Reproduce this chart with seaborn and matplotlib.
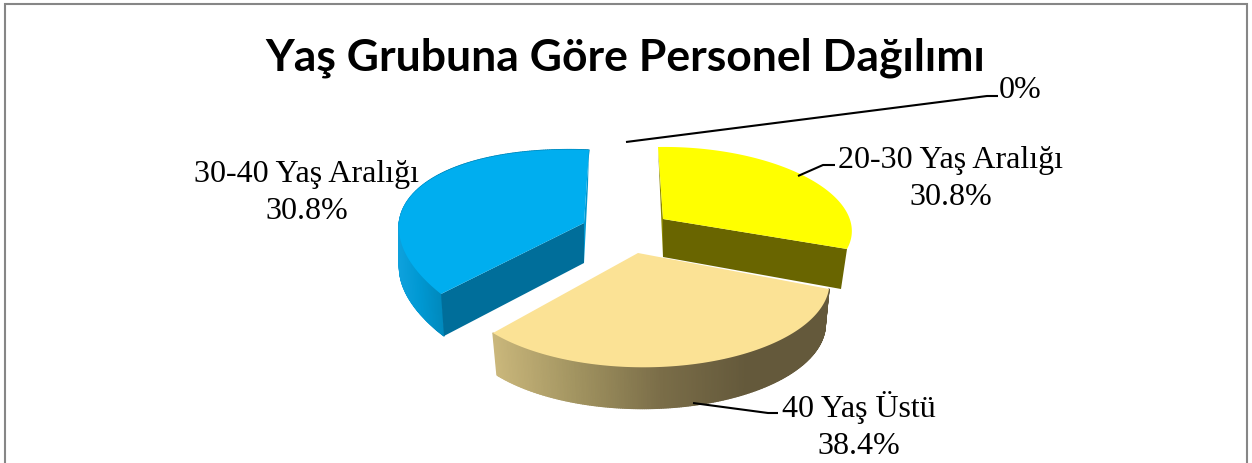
import numpy as np
import matplotlib
matplotlib.use("Agg")
import matplotlib.pyplot as plt
from matplotlib.collections import PolyCollection
from matplotlib.patches import Polygon
import seaborn as sns

# ---- data ----
TITLE = "Yaş Grubuna Göre Personel Dağılımı"
categories = ["20-30 Yaş Aralığı", "40 Yaş Üstü", "30-40 Yaş Aralığı", ""]
shares = [30.8, 38.4, 30.8, 0.0]

sns.set_theme(style="white")
W, H = 1252, 463
fig = plt.figure(figsize=(W / 100, H / 100), dpi=100)
ax = fig.add_axes([0, 0, 1, 1])
ax.set_xlim(0, W)
ax.set_ylim(H, 0)
ax.axis("off")

# slice angles come from the values (clockwise from the top)
edges = 360 * np.cumsum([0] + shares) / sum(shares)

# look of each slice: apex, three rim anchors (start, middle, end) that fix its
# tilted ellipse, extrusion of the rim at start / end, extrusion of the apex
LOOK = {
    0: dict(apex=(663, 219), rim=[(658, 147), (808, 178), (847, 249)],
            off0=(0, 38), off1=(-6, 40), apex_off=(0, 38),
            top="#FFFF00", face="#696500", wall=None, xr=None),
    1: dict(apex=(638, 253), rim=[(829, 289), (695, 364), (493, 333)],
            off0=(-4, 40), off1=(4, 42), apex_off=(0, 40),
            top="#FBE295", face="#696500",
            wall=["#64593B", "#64593B", "#7A6D48", "#A19360", "#CBB87C"], xr=(829, 495)),
    2: dict(apex=(584, 223), rim=[(441, 294), (416, 191), (589, 150)],
            off0=(3, 42), off1=(-5, 40), apex_off=(0, 40),
            top="#00AEEF", face="#006E9A",
            wall=["#0088BC", "#0098D2", "#0FA2DE"], xr=(445, 397)),
}


def rim_points(look, a0, a1, n=240):
    mid = (a0 + a1) / 2
    anchors = np.radians([a0, mid, a1])
    A = np.column_stack([np.ones(3), np.sin(anchors), -np.cos(anchors)])
    coef = np.linalg.solve(A, np.array(look["rim"], float))
    t = np.radians(np.linspace(a0, a1, n))
    return np.column_stack([np.ones(n), np.sin(t), -np.cos(t)]) @ coef


def draw_slice(i):
    look = LOOK[i]
    a0, a1 = edges[i], edges[i + 1]
    pts = rim_points(look, a0, a1)
    frac = np.linspace(0, 1, len(pts))[:, None]
    low = pts + np.array(look["off0"]) * (1 - frac) + np.array(look["off1"]) * frac
    apex = np.array(look["apex"], float)
    apex_low = apex + np.array(look["apex_off"])

    # outer wall, shaded from side to side
    if look["wall"] is not None:
        pal = np.array(sns.blend_palette(look["wall"], n_colors=256))
        quads = [[pts[k], pts[k + 1], low[k + 1], low[k]] for k in range(len(pts) - 1)]
        xm = (low[:-1, 0] + low[1:, 0]) / 2
        x0, x1 = look["xr"]
        idx = np.clip((xm - x0) / (x1 - x0), 0, 1) * 255
        cols = pal[idx.astype(int)]
        ax.add_collection(PolyCollection(quads, facecolors=cols, edgecolors=cols, linewidths=1.0, zorder=2))

    # cut faces
    if i == 0:
        ax.add_patch(Polygon([pts[0], apex, apex_low], fc="#8A8600", ec="none", zorder=2))
        ax.add_patch(Polygon([apex, pts[-1], low[-1], apex_low], fc=look["face"], ec="none", zorder=2))
    if i == 2:
        ax.add_patch(Polygon([pts[0], apex, apex_low, low[0]], fc=look["face"], ec="none", zorder=2))
        ax.add_patch(Polygon([pts[-1], (pts[-1][0] - 1, pts[-1][1] + 35), apex_low, apex], fc="#0097D0", ec="none", zorder=2))

    # top surface
    ax.add_patch(Polygon(np.vstack([apex, pts]), fc=look["top"], ec="none", zorder=3))


for i in (2, 0, 1):
    draw_slice(i)

# leader lines
LINE = dict(color="black", lw=1.5, solid_capstyle="butt", solid_joinstyle="round", zorder=4)
ax.plot([626, 987, 998], [142, 96, 96], **LINE)
ax.plot([798, 823, 835], [176, 165, 165], **LINE)
ax.plot([693, 768, 778], [403, 413, 413], **LINE)

# labels, percentages taken from the values
SERIF = dict(family="Liberation Serif", fontsize=23, color="black", ha="center", va="center", linespacing=1.33)
for i, (x, y) in {0: (951, 179), 1: (859, 426), 2: (307, 193)}.items():
    ax.text(x, y, f"{categories[i]}\n{shares[i]:.1f}%", **SERIF)
ax.text(1020, 90, f"{shares[3]:.0f}%", **SERIF)

ax.text(625, 58, TITLE, family="Lato", fontweight="bold", fontsize=32, color="black", ha="center", va="center")

# chart frame (the bottom edge lies outside the crop)
ax.plot([5, 5, 1247, 1247], [H, 4, 4, H], color="#868686", lw=1.5, solid_joinstyle="miter", zorder=5)

fig.savefig("out.png", dpi=100, facecolor="white")
